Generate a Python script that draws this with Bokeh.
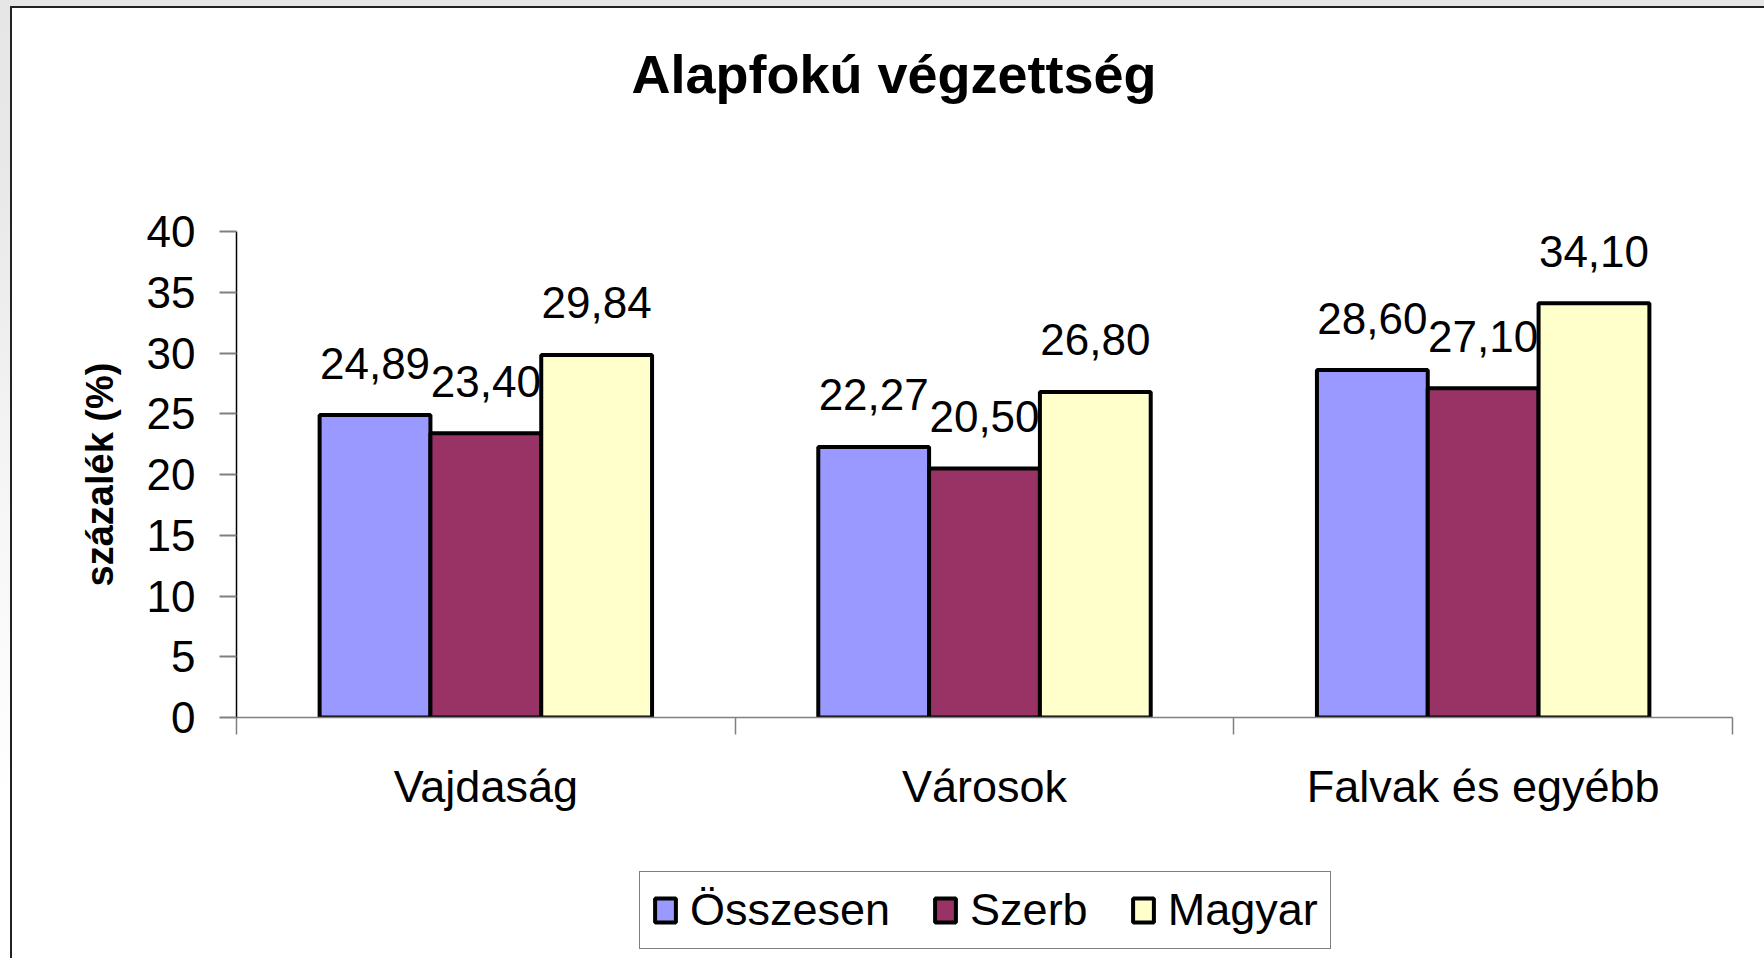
import numpy as np
from bokeh.plotting import figure
from bokeh.layouts import column
from bokeh.models import (ColumnDataSource, Range1d, FixedTicker, Legend,
                          LegendItem, Title)
from bokeh.transform import dodge
from bokeh.core.properties import value
from bokeh.embed import file_html
from bokeh.resources import INLINE

# ---- data ----
categories = ["Vajdaság", "Városok", "Falvak és egyébb"]
series_names = ["Összesen", "Szerb", "Magyar"]
osszesen = [24.89, 22.27, 28.60]
szerb = [23.40, 20.50, 27.10]
magyar = [29.84, 26.80, 34.10]
colors = ["#9999FF", "#993366", "#FFFFCC"]
y_ticks = [0, 5, 10, 15, 20, 25, 30, 35, 40]
title_text = "Alapfokú végzettség"
y_label = "százalék (%)"

FONT = "Liberation Sans"
W = 1752
H_MAIN, H_LEG = 850, 100
FRAME_LEFT, FRAME_RIGHT, FRAME_TOP, FRAME_BOTTOM = 224, 1720, 223, 709

p = figure(width=W, height=H_MAIN,
           x_range=Range1d(0, len(categories)), y_range=Range1d(0, 40),
           output_backend="svg", toolbar_location=None,
           min_border_left=FRAME_LEFT, min_border_right=W - FRAME_RIGHT,
           min_border_top=FRAME_TOP, min_border_bottom=H_MAIN - FRAME_BOTTOM)
p.background_fill_color = "white"
p.border_fill_color = "white"
p.outline_line_color = None
p.grid.visible = False

# spacer between frame and title, then the title itself
spacer = Title(text=" ", text_font_size="10px", standoff=83)
p.add_layout(spacer, "above")
title = Title(text=title_text, text_font=FONT, text_font_size="54px",
              text_font_style="bold", text_color="black", align="left",
              offset=395, vertical_align="top", standoff=60)
p.add_layout(title, "above")

pos = np.arange(len(categories)) + 0.5
bar_w = 1.0 / (len(series_names) + 1.5)
offsets = [-bar_w, 0.0, bar_w]
all_vals = [osszesen, szerb, magyar]

sources = []
for name, vals, col, off in zip(series_names, all_vals, colors, offsets):
    src = ColumnDataSource(dict(
        x=pos, y=vals,
        label=[f"{v:.2f}".replace(".", ",") for v in vals]))
    sources.append(src)
    p.vbar(x=dodge("x", off, range=p.x_range), top="y", bottom=0,
           width=bar_w, source=src, fill_color=col,
           line_color="black", line_width=4)
    p.text(x=dodge("x", off, range=p.x_range), y="y", text="label",
           source=src, text_align="center", text_baseline="alphabetic",
           y_offset=-52, text_font=value(FONT), text_font_size="44px",
           text_color="black")

# y axis
ya = p.yaxis[0]
ya.ticker = FixedTicker(ticks=y_ticks)
ya.minor_tick_line_color = None
ya.major_tick_in = 0
ya.major_tick_out = 17
ya.major_tick_line_color = "#808080"
ya.major_tick_line_width = 2
ya.axis_line_color = "black"
ya.axis_line_width = 1.5
ya.major_label_text_font = FONT
ya.major_label_text_font_size = "44px"
ya.major_label_text_color = "black"
ya.major_label_standoff = 24
ya.axis_label = y_label
ya.axis_label_text_font = FONT
ya.axis_label_text_font_size = "38px"
ya.axis_label_text_font_style = "bold"
ya.axis_label_text_color = "black"
ya.axis_label_standoff = 23

# x axis: labels at category centres, ticks at category boundaries
xa = p.xaxis[0]
xa.ticker = FixedTicker(ticks=list(pos), minor_ticks=list(range(len(categories) + 1)))
xa.major_label_overrides = {float(t): c for t, c in zip(pos, categories)}
xa.major_tick_line_color = None
xa.major_tick_in = 0
xa.major_tick_out = 17
xa.minor_tick_in = 0
xa.minor_tick_out = 17
xa.minor_tick_line_color = "#808080"
xa.minor_tick_line_width = 1.5
xa.axis_line_color = "#808080"
xa.axis_line_width = 1.5
xa.major_label_text_font = FONT
xa.major_label_text_font_size = "45px"
xa.major_label_text_color = "black"
xa.major_label_standoff = 26

# ---- legend strip below the chart (hidden proxy renderers of the series) ----
pl = figure(width=W, height=H_LEG, x_range=Range1d(0, 1), y_range=Range1d(0, 1),
            x_axis_type=None, y_axis_type=None,
            output_backend="svg", toolbar_location=None,
            min_border_left=0, min_border_right=0,
            min_border_top=0, min_border_bottom=0)
pl.background_fill_color = "white"
pl.border_fill_color = "white"
pl.outline_line_color = None
pl.grid.visible = False

items = []
for name, col, src in zip(series_names, colors, sources):
    r = pl.vbar(x="x", top="y", width=bar_w, source=src, fill_color=col,
                line_color="black", line_width=4)
    r.visible = False
    items.append(LegendItem(label=name, renderers=[r]))

legend = Legend(items=items, orientation="horizontal", location=(403, 9),
                label_text_font=FONT, label_text_font_size="45px",
                label_text_color="black",
                glyph_width=26, glyph_height=30, label_standoff=12,
                spacing=42, padding=12, margin=0,
                inactive_fill_alpha=0.0,
                border_line_color="black", border_line_width=1.5,
                background_fill_color="white", background_fill_alpha=1.0)
pl.add_layout(legend, "center")

layout = column(p, pl, spacing=0)
layout.styles = {"margin-left": "10px", "margin-top": "6px",
                 "background-color": "white",
                 "border-top": "2px solid #222", "border-left": "2px solid #222"}

html = file_html(layout, INLINE)
html = html.replace(
    "</head>",
    "<style>body { background: linear-gradient(#e6e6e6 0px, #e9e9e9 200px, "
    "#f6f6f6 500px, #ffffff 800px) !important; }</style></head>",
    1)
open("out.html", "w").write(html)
